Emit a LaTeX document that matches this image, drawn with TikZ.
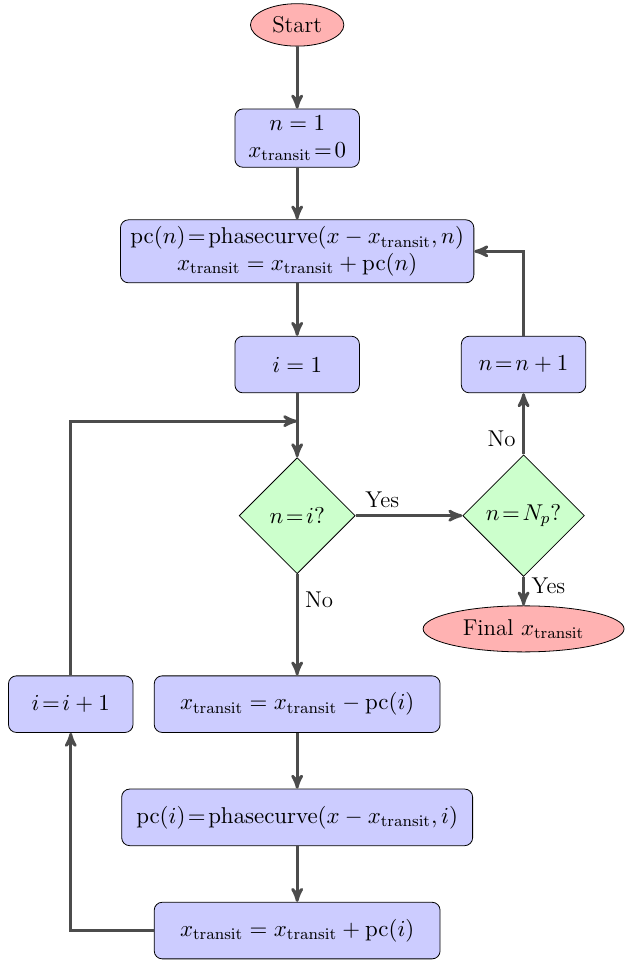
\RequirePackage{fix-cm}
\documentclass[tikz,border=0pt]{standalone}
\usetikzlibrary{arrows}
\usetikzlibrary{positioning,shapes.geometric}

\begin{document}
\begin{tikzpicture}[node distance=2cm, on grid, font=\fontsize{11.5}{13.5}\selectfont,
  startstop/.style={ellipse, draw, fill=red!30, minimum width=1.65cm, minimum height=0.75cm},
  process/.style={rectangle, rounded corners, draw, fill=blue!20, minimum width=2.2cm, minimum height=1cm, inner xsep=5pt, align=center},
  wide/.style={minimum width=5.05cm},
  decision/.style={diamond, aspect=1, draw, fill=green!20, minimum size=2.05cm, inner sep=1pt},
  line/.style={draw=black!70, line width=1.4pt, ->, >=stealth'}]
\useasboundingbox (-5.25,0.44) rectangle (5.78,-16.52);
\node[startstop] (start) {Start};
\node[process, below=of start] (init) {$n=1$\\$x_{\mathrm{transit}}\!=\!0$};
\node[process, below=of init] (pcn) {$\mathrm{pc}(n)\!=\!\mathrm{phasecurve}(x-x_{\mathrm{transit}},n)$\\$x_{\mathrm{transit}}=x_{\mathrm{transit}}+\mathrm{pc}(n)$};
\node[process, below=of pcn] (ione) {$i=1$};
\coordinate[below=1cm of ione] (join);
\node[decision, below=2.67cm of ione] (eqi) {$n\!=\!i?$};
\node[process, wide, below=3.33cm of eqi] (sub) {$x_{\mathrm{transit}}=x_{\mathrm{transit}}-\mathrm{pc}(i)$};
\node[process, minimum width=6.2cm, below=of sub] (pci) {$\mathrm{pc}(i)\!=\!\mathrm{phasecurve}(x-x_{\mathrm{transit}},i)$};
\node[process, wide, below=of pci] (add) {$x_{\mathrm{transit}}=x_{\mathrm{transit}}+\mathrm{pc}(i)$};
\node[process, left=4cm of sub] (iinc) {$i\!=\!i+1$};
\node[decision, minimum size=2.15cm, right=4cm of eqi] (eqnp) {$n\!=\!N_p?$};
\node[process, right=4cm of ione] (ninc) {$n\!=\!n+1$};
\node[startstop, minimum width=3.55cm, below=of eqnp] (final) {Final $x_{\mathrm{transit}}$};

\draw[line] (start) -- (init);
\draw[line] (init) -- (pcn);
\draw[line] (pcn) -- (ione);
\draw[line] (ione) -- (eqi);
\draw[line] (eqi) -- node[above, pos=0.25]{Yes} (eqnp);
\draw[line] (eqi) -- node[right, pos=0.25]{No} (sub);
\draw[line] (eqnp) -- node[left, pos=0.25]{No} (ninc);
\draw[line] (eqnp) -- node[right, pos=0.3]{Yes} (final);
\draw[line] (ninc) |- (pcn);
\draw[line] (sub) -- (pci);
\draw[line] (pci) -- (add);
\draw[line] (add) -| (iinc);
\draw[line] (iinc) |- (join);
\end{tikzpicture}
\end{document}
